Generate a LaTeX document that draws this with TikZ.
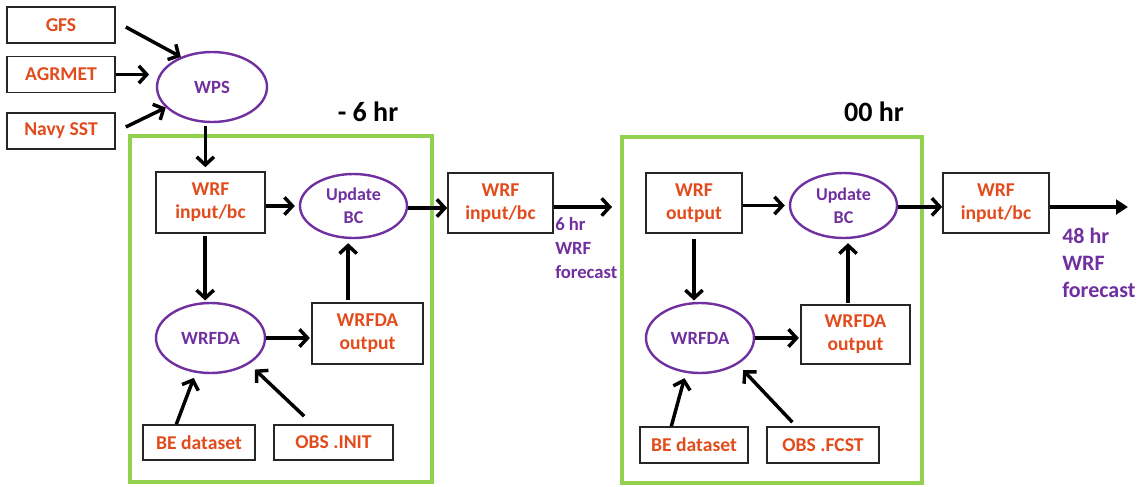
\documentclass[tikz,border=0pt]{standalone}
\usepackage{fontspec}
\setmainfont{Carlito}
\usetikzlibrary{arrows.meta,shapes.geometric,calc}
\definecolor{txtor}{RGB}{226,76,28}
\definecolor{purp}{RGB}{112,48,160}
\definecolor{grn}{RGB}{146,208,80}
\begin{document}
\begin{tikzpicture}[x=0.75pt,y=-0.75pt,
  box/.style={draw=black!85,line width=1.2pt,fill=white,inner sep=0pt,align=center,text=txtor,font=\fontsize{14.7}{17.5}\selectfont\bfseries},
  ell/.style={ellipse,draw=purp,line width=1.8pt,inner sep=0pt,align=center,text=purp,font=\fontsize{14}{17}\selectfont\bfseries},
  arr/.style={line width=2.6pt,-{Straight Barb[length=6pt,width=13pt]}},
  farr/.style={line width=2.6pt,-{Triangle[length=9pt,width=11pt]}},
  frame/.style={draw=grn,line width=3pt},
  hdr/.style={font=\fontsize{21}{24}\selectfont\bfseries,text=black},
  fc/.style={align=left,text=purp,inner sep=0pt}
]
\useasboundingbox (0,0) rectangle (1143,486);
% green frames
\draw[frame] (130,136) rectangle (432,482);
\draw[frame] (622,137) rectangle (922,483);
% inputs
\node[box,minimum width=81pt,minimum height=27pt] (gfs) at (61,25) {GFS};
\node[box,minimum width=81pt,minimum height=27pt] (agr) at (61,74.5) {AGRMET};
\node[box,minimum width=81pt,minimum height=27pt] (navy) at (61,131) {Navy SST};
\node[ell,minimum width=82.5pt,minimum height=52.5pt] (wps) at (212,87) {WPS};
% -6 hr block
\node[hdr] (h6) at (368,112) {- 6 hr};
\node[box,minimum width=81.75pt,minimum height=45.75pt] (wrf1) at (210.5,202.5) {WRF\\input/bc};
\node[ell,minimum width=80.25pt,minimum height=48pt,font=\fontsize{13.5}{17}\selectfont\bfseries] (ubc1) at (353.5,206) {Update\\BC};
\node[ell,minimum width=81.75pt,minimum height=52.5pt] (wda1) at (210.5,338) {WRFDA};
\node[box,minimum width=83.25pt,minimum height=45.75pt] (wdo1) at (367.5,333.5) {WRFDA\\output};
\node[box,minimum width=84pt,minimum height=26.25pt] (be1) at (199,442.5) {BE dataset};
\node[box,minimum width=89.25pt,minimum height=26.25pt] (obs1) at (333.5,442.5) {OBS .INIT};
% middle
\node[box,minimum width=78.75pt,minimum height=45pt] (mid) at (500.5,203) {WRF\\input/bc};
\coordinate (c6) at (612,207);
\node[fc,anchor=north west,font=\fontsize{14}{18}\selectfont\bfseries] (t6) at (555,217) {6 hr\\WRF\\forecast};
% 00 hr block
\node[hdr] (h0) at (874,112) {00 hr};
\node[box,minimum width=72pt,minimum height=45pt] (wrf2) at (694,203) {WRF\\output};
\node[ell,minimum width=80.25pt,minimum height=48.75pt,font=\fontsize{13.5}{17}\selectfont\bfseries] (ubc2) at (843.5,205.5) {Update\\BC};
\node[ell,minimum width=81pt,minimum height=52.5pt] (wda2) at (700,338) {WRFDA};
\node[box,minimum width=81.75pt,minimum height=44.25pt] (wdo2) at (855.5,334.5) {WRFDA\\output};
\node[box,minimum width=81pt,minimum height=27pt] (be2) at (694,445) {BE dataset};
\node[box,minimum width=84pt,minimum height=27pt] (obs2) at (823,445) {OBS .FCST};
% right
\node[box,minimum width=79.5pt,minimum height=45pt] (rt) at (996,203) {WRF\\input/bc};
\coordinate (c48) at (1128,207);
\node[fc,anchor=north west,font=\fontsize{16.5}{20}\selectfont\bfseries] (t48) at (1062,228) {48 hr\\WRF\\forecast};
% arrows: inputs
\draw[arr] ([xshift=7.5pt,yshift=-1.5pt]gfs.east) -- (wps.136);
\draw[arr,shorten >=1pt] (agr.east) -- ([xshift=-4pt]agr.east -| wps.west);
\draw[arr] ([xshift=7.5pt,yshift=3pt]navy.east) -- (wps.204);
\draw[arr,shorten <=2pt,shorten >=3pt] ([xshift=-5pt]wps.south) -- ([xshift=-5pt]wps.south |- wrf1.north);
% -6 hr block arrows
\draw[arr,shorten >=3pt] (wrf1.east |- ubc1.west) -- (ubc1.west);
\draw[arr,shorten <=2pt,shorten >=1pt] ([xshift=-4pt]wrf1.south) -- ([xshift=-4pt]wrf1.south |- wda1.north);
\draw[arr,shorten >=1pt] (wda1.east) -- (wda1.east -| wdo1.west);
\draw[arr,shorten <=2pt,shorten >=3pt] ([xshift=-4pt]ubc1.south |- wdo1.north) -- ([xshift=-4pt]ubc1.south);
\draw[arr,shorten >=4pt] ([xshift=-17pt]be1.north) -- (wda1.247);
\draw[arr,shorten >=6pt] ([xshift=-22pt,yshift=6pt]obs1.north) -- (wda1.326);
% middle arrows
\draw[arr] ([yshift=-1.5pt]ubc1.east) -- ([yshift=-1.5pt]ubc1.east -| mid.west);
\draw[arr] (mid.east |- c6) -- (c6);
% 00 hr block arrows
\draw[arr,shorten >=3pt] (wrf2.east |- ubc2.west) -- (ubc2.west);
\draw[arr,shorten <=4pt,shorten >=1pt] (wrf2.south) -- (wrf2.south |- wda2.north);
\draw[arr,shorten >=1pt] (wda2.east) -- (wda2.east -| wdo2.west);
\draw[arr,shorten <=1pt,shorten >=3pt] ([xshift=3.4pt]ubc2.south |- wdo2.north) -- ([xshift=3.4pt]ubc2.south);
\draw[arr,shorten >=4pt] ([xshift=-17pt]be2.north) -- (wda2.248);
\draw[arr,shorten >=6pt] ([xshift=-23pt,yshift=3pt]obs2.north) -- (wda2.325);
% right arrows
\draw[arr] ([yshift=-1pt]ubc2.east) -- ([yshift=-1pt]ubc2.east -| rt.west);
\draw[farr] (rt.east |- c48) -- (c48);
\end{tikzpicture}
\end{document}
